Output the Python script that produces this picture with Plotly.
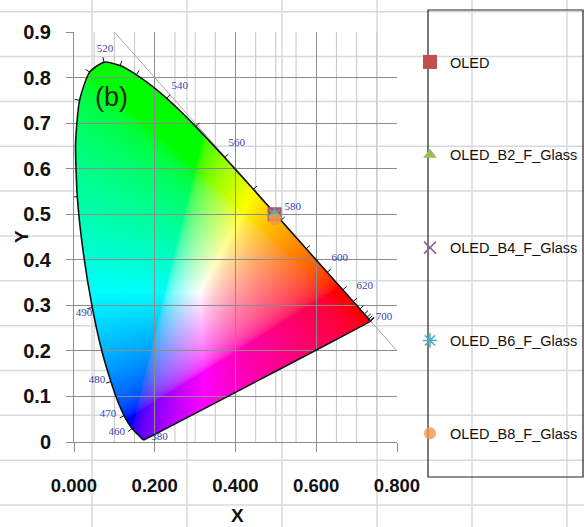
import base64
import struct
import zlib

import numpy as np
import plotly.graph_objects as go

# CIE 1931 2-degree spectral locus, chromaticity coordinates every 5 nm
WAVELENGTHS = list(range(380, 705, 5))
LOCUS_X = [0.1741, 0.1740, 0.1738, 0.1736, 0.1733, 0.1730, 0.1726, 0.1721, 0.1714, 0.1703,
           0.1689, 0.1669, 0.1644, 0.1611, 0.1566, 0.1510, 0.1440, 0.1355, 0.1241, 0.1096,
           0.0913, 0.0687, 0.0454, 0.0235, 0.0082, 0.0039, 0.0139, 0.0389, 0.0743, 0.1142,
           0.1547, 0.1929, 0.2296, 0.2658, 0.3016, 0.3373, 0.3731, 0.4087, 0.4441, 0.4788,
           0.5125, 0.5448, 0.5752, 0.6029, 0.6270, 0.6482, 0.6658, 0.6801, 0.6915, 0.7006,
           0.7079, 0.7140, 0.7190, 0.7230, 0.7260, 0.7283, 0.7300, 0.7311, 0.7320, 0.7327,
           0.7334, 0.7340, 0.7344, 0.7346, 0.7347]
LOCUS_Y = [0.0050, 0.0050, 0.0049, 0.0049, 0.0048, 0.0048, 0.0048, 0.0048, 0.0051, 0.0058,
           0.0069, 0.0086, 0.0109, 0.0138, 0.0177, 0.0227, 0.0297, 0.0399, 0.0578, 0.0868,
           0.1327, 0.2007, 0.2950, 0.4127, 0.5384, 0.6548, 0.7502, 0.8120, 0.8338, 0.8262,
           0.8059, 0.7816, 0.7543, 0.7243, 0.6923, 0.6589, 0.6245, 0.5896, 0.5547, 0.5202,
           0.4866, 0.4544, 0.4242, 0.3965, 0.3725, 0.3514, 0.3340, 0.3197, 0.3083, 0.2993,
           0.2920, 0.2859, 0.2809, 0.2770, 0.2740, 0.2717, 0.2700, 0.2689, 0.2680, 0.2673,
           0.2666, 0.2660, 0.2656, 0.2654, 0.2653]

# wavelengths that get a small tick on the locus
TICK_WL = [460, 470, 480, 490, 500, 510, 515, 520, 525, 530, 540, 550, 560, 570, 580,
           590, 600, 610, 620, 630, 640, 650, 660, 680, 700]

# wavelength labels around the locus
LABEL_TEXT = ["520", "540", "560", "580", "600", "620", "700", "490", "480", "470", "460", "380"]
LABEL_X = [0.077, 0.262, 0.403, 0.542, 0.658, 0.720, 0.768, 0.025, 0.057, 0.084, 0.106, 0.212]
LABEL_Y = [0.863, 0.782, 0.656, 0.516, 0.404, 0.342, 0.274, 0.283, 0.136, 0.061, 0.022, 0.011]

# reference line x + y = 1
DIAG_X = [0.1, 0.8]
DIAG_Y = [0.9, 0.2]

# measured colour coordinates
SERIES = ["OLED", "OLED_B2_F_Glass", "OLED_B4_F_Glass", "OLED_B6_F_Glass", "OLED_B8_F_Glass"]
SERIES_X = [0.497, 0.497, 0.497, 0.497, 0.497]
SERIES_Y = [0.500, 0.499, 0.499, 0.499, 0.489]
SERIES_SYMBOL = ["square", "triangle-up", "x-thin-open", "asterisk-open", "circle"]
SERIES_COLOR = ["#C0504D", "#9BBB59", "#8064A2", "#4BACC6", "#F79646"]
SERIES_SIZE = [14, 12, 12, 12, 12]

X_TICKS = [0.0, 0.2, 0.4, 0.6, 0.8]
Y_TICKS = [0.0, 0.1, 0.2, 0.3, 0.4, 0.5, 0.6, 0.7, 0.8, 0.9]
X_MINOR = [0.05, 0.10, 0.15, 0.25, 0.30, 0.35, 0.45, 0.50, 0.55, 0.65, 0.70, 0.75]

X_RANGE = [0.0, 0.8]
Y_RANGE = [0.0, 0.9]

W, H = 584, 527
PL, PR, PT, PB = 74, 397, 32, 442          # plot-area edges in pixels
KX = (PR - PL) / (X_RANGE[1] - X_RANGE[0])  # pixels per unit x
KY = (PB - PT) / (Y_RANGE[1] - Y_RANGE[0])  # pixels per unit y

lx = np.array(LOCUS_X)
ly = np.array(LOCUS_Y)
poly_x = np.append(lx, lx[0])
poly_y = np.append(ly, ly[0])


def encode_png(rgba):
    h, w, _ = rgba.shape
    raw = b"".join(b"\x00" + rgba[r].tobytes() for r in range(h))

    def chunk(tag, data):
        return (struct.pack(">I", len(data)) + tag + data
                + struct.pack(">I", zlib.crc32(tag + data) & 0xFFFFFFFF))

    return (b"\x89PNG\r\n\x1a\n"
            + chunk(b"IHDR", struct.pack(">IIBBBBB", w, h, 8, 6, 0, 0, 0))
            + chunk(b"IDAT", zlib.compress(raw, 9))
            + chunk(b"IEND", b""))


# ---- colour-filled gamut (rendered as an RGBA bitmap) ----
gx0, gx1, gy0, gy1 = 0.0, 0.76, 0.0, 0.86
nx = int(round((gx1 - gx0) * KX * 1.5))
ny = int(round((gy1 - gy0) * KY * 1.5))
xs = gx0 + (np.arange(nx) + 0.5) * (gx1 - gx0) / nx
ys = gy1 - (np.arange(ny) + 0.5) * (gy1 - gy0) / ny
GX, GY = np.meshgrid(xs, ys)

inside = np.zeros(GX.shape, dtype=bool)
for i in range(len(poly_x) - 1):
    x1, y1, x2, y2 = poly_x[i], poly_y[i], poly_x[i + 1], poly_y[i + 1]
    if y1 == y2:
        continue
    cross = ((y1 > GY) != (y2 > GY)) & (GX < (x2 - x1) * (GY - y1) / (y2 - y1) + x1)
    inside ^= cross

Xc = GX / GY
Zc = (1.0 - GX - GY) / GY
R = 3.2406 * Xc - 1.5372 - 0.4986 * Zc
G = -0.9689 * Xc + 1.8758 + 0.0415 * Zc
B = 0.0557 * Xc - 0.2040 + 1.0570 * Zc
rgb = np.clip(np.stack([R, G, B], axis=-1), 0, None)
rgb = rgb / np.maximum(rgb.max(axis=-1, keepdims=True), 1e-9)
rgb = np.where(rgb <= 0.0031308, 12.92 * rgb, 1.055 * np.power(rgb, 1 / 2.4) - 0.055)
img = np.zeros((ny, nx, 4), dtype=np.uint8)
img[..., :3] = np.clip(rgb * 255, 0, 255).astype(np.uint8)
img[..., 3] = np.where(inside, 255, 0).astype(np.uint8)
gamut_src = "data:image/png;base64," + base64.b64encode(encode_png(img)).decode()

# ---- tick marks on the locus, pointing outward ----
tick_x, tick_y = [], []
for wl in TICK_WL:
    i = WAVELENGTHS.index(wl)
    a, b = max(i - 1, 0), min(i + 1, len(lx) - 1)
    tx, ty = (lx[b] - lx[a]) * KX, (ly[b] - ly[a]) * KY
    n = np.hypot(tx, ty)
    nxv, nyv = -ty / n, tx / n
    tick_x += [lx[i], lx[i] + nxv * 5 / KX, None]
    tick_y += [ly[i], ly[i] + nyv * 5 / KY, None]

fig = go.Figure()

fig.add_trace(go.Scatter(x=DIAG_X, y=DIAG_Y, mode="lines",
                         line=dict(color="#A8A8A8", width=1),
                         showlegend=False, hoverinfo="skip"))
fig.add_trace(go.Scatter(x=list(poly_x), y=list(poly_y), mode="lines",
                         line=dict(color="#111111", width=1.6, shape="spline", smoothing=0.6),
                         showlegend=False, hoverinfo="skip"))
fig.add_trace(go.Scatter(x=tick_x, y=tick_y, mode="lines",
                         line=dict(color="#111111", width=1),
                         showlegend=False, hoverinfo="skip"))
fig.add_trace(go.Scatter(x=LABEL_X, y=LABEL_Y, mode="text", text=LABEL_TEXT,
                         textfont=dict(family="Liberation Serif", size=11, color="#4040B0"),
                         showlegend=False, hoverinfo="skip"))

for k, name in enumerate(SERIES):
    sym = SERIES_SYMBOL[k]
    thin = sym.endswith("open")
    fig.add_trace(go.Scatter(
        x=[SERIES_X[k]], y=[SERIES_Y[k]], mode="markers", name=name,
        legendgroup=name,
        marker=dict(symbol=sym, size=SERIES_SIZE[k], color=SERIES_COLOR[k],
                    opacity=0.8 if k == 4 else 1.0,
                    line=dict(color=SERIES_COLOR[k], width=1.5 if thin else 0)),
    ))


# ---- background lines that stay hidden behind the filled gamut ----
def px_to_data_x(px):
    return X_RANGE[0] + (px - PL) / KX


def px_to_data_y(py):
    return Y_RANGE[0] + (PB - py) / KY


def outside_intervals(const, lo, hi, horizontal):
    cuts = []
    for i in range(len(poly_x) - 1):
        if horizontal:
            a1, b1, a2, b2 = poly_y[i], poly_x[i], poly_y[i + 1], poly_x[i + 1]
        else:
            a1, b1, a2, b2 = poly_x[i], poly_y[i], poly_x[i + 1], poly_y[i + 1]
        if (a1 - const) * (a2 - const) < 0:
            cuts.append(b1 + (const - a1) * (b2 - b1) / (a2 - a1))
    cuts.sort()
    segs, start = [], lo
    for j in range(0, len(cuts) - 1, 2):
        segs.append((start, cuts[j]))
        start = cuts[j + 1]
    segs.append((start, hi))
    return segs


def hline(yd, lo, hi, color, width):
    return [dict(type="line", xref="paper", yref="paper", layer="below",
                 x0=s0 / X_RANGE[1], x1=s1 / X_RANGE[1],
                 y0=yd / Y_RANGE[1], y1=yd / Y_RANGE[1],
                 line=dict(color=color, width=width))
            for s0, s1 in outside_intervals(yd, lo, hi, True)]


def vline(xd, lo, hi, color, width):
    return [dict(type="line", xref="paper", yref="paper", layer="below",
                 x0=xd / X_RANGE[1], x1=xd / X_RANGE[1],
                 y0=s0 / Y_RANGE[1], y1=s1 / Y_RANGE[1],
                 line=dict(color=color, width=width))
            for s0, s1 in outside_intervals(xd, lo, hi, False)]


shapes = []
# worksheet cells behind the chart
cell_color = "#D5DAE3"
x_lo, x_hi = px_to_data_x(0), px_to_data_x(W)
y_lo, y_hi = px_to_data_y(H), px_to_data_y(0)
row = 11.7
while row < H:
    shapes += hline(px_to_data_y(row), x_lo, x_hi, cell_color, 1.5)
    row += 44.85
col = 92
while col < W:
    shapes += vline(px_to_data_x(col), y_lo, y_hi, cell_color, 1.5)
    col += 95
# minor x gridlines
for xm in X_MINOR:
    shapes += vline(xm, Y_RANGE[0], Y_RANGE[1], "#C6C6C6", 1)

# legend frame
shapes.append(dict(type="rect", xref="paper", yref="paper",
                   x0=(428 - PL) / (PR - PL), x1=(583 - PL) / (PR - PL),
                   y0=(PB - 477) / (PB - PT), y1=(PB - 10) / (PB - PT),
                   line=dict(color="#222222", width=1.2)))

annotations = [
    dict(text="(b)", x=0.094, y=0.757, xref="x", yref="y", showarrow=False,
         xanchor="center", yanchor="middle",
         font=dict(family="Liberation Sans", size=27, color="#1C2A1C")),
    dict(text="<b>Y</b>", x=(21 - PL) / (PR - PL), y=(PB - 237) / (PB - PT),
         xref="paper", yref="paper", showarrow=False, textangle=-90,
         xanchor="center", yanchor="middle",
         font=dict(family="Liberation Sans", size=19, color="#111111")),
    dict(text="<b>X</b>", x=(237 - PL) / (PR - PL), y=(PB - 515) / (PB - PT),
         xref="paper", yref="paper", showarrow=False,
         xanchor="center", yanchor="middle",
         font=dict(family="Liberation Sans", size=19, color="#111111")),
]

fig.update_layout(
    width=W, height=H,
    margin=dict(l=PL, r=W - PR, t=PT, b=H - PB, autoexpand=False),
    paper_bgcolor="white", plot_bgcolor="rgba(0,0,0,0)",
    images=[dict(source=gamut_src, xref="x", yref="y", x=gx0, y=gy1,
                 sizex=gx1 - gx0, sizey=gy1 - gy0, sizing="stretch", layer="below")],
    shapes=shapes,
    annotations=annotations,
    showlegend=True,
    legend=dict(x=(410 - PL) / (PR - PL), y=(PB - 46) / (PB - PT),
                xanchor="left", yanchor="top", bgcolor="rgba(0,0,0,0)",
                borderwidth=0, tracegroupgap=71,
                font=dict(family="Liberation Sans", size=14.5, color="#111111")),
)

fig.update_xaxes(range=X_RANGE, tickvals=X_TICKS, tickformat=".3f",
                 showgrid=True, gridcolor="#8C8C8C", gridwidth=1,
                 showline=True, linecolor="#8C8C8C", ticks="outside", ticklen=9,
                 tickcolor="#8C8C8C", ticklabelstandoff=18, zeroline=False,
                 tickfont=dict(family="Liberation Sans", size=18.5,
                               color="#111111", weight="bold"))
fig.update_yaxes(range=Y_RANGE, tickvals=Y_TICKS,
                 showgrid=True, gridcolor="#8C8C8C", gridwidth=1,
                 showline=True, linecolor="#8C8C8C", ticks="outside", ticklen=7,
                 tickcolor="#8C8C8C", ticklabelstandoff=11, zeroline=False,
                 tickfont=dict(family="Liberation Sans", size=20, color="#111111",
                               weight="bold"))

fig.write_html("out.html")
